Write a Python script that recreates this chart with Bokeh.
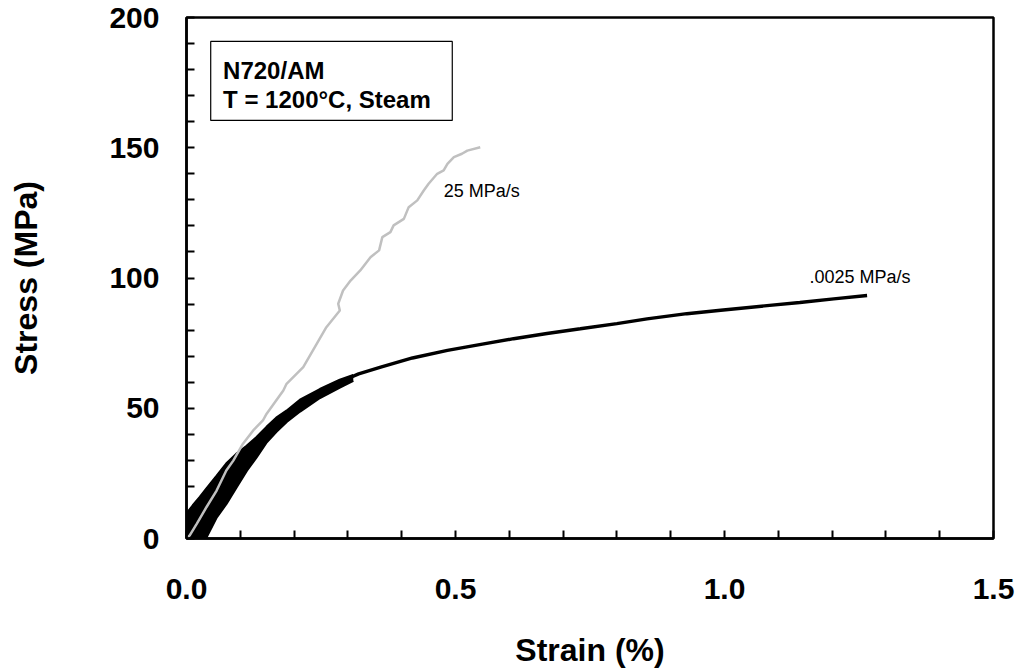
from bokeh.plotting import figure
from bokeh.models import Range1d, FixedTicker, BoxAnnotation, Label
from bokeh.embed import file_html
from bokeh.resources import INLINE

# ---- data ----
# 25 MPa/s (gray)
fast_strain = [0.0, 0.006, 0.019, 0.037, 0.056, 0.074, 0.087, 0.105, 0.124, 0.142,
               0.149, 0.180, 0.186, 0.217, 0.242, 0.260, 0.285, 0.282, 0.291, 0.305,
               0.323, 0.342, 0.358, 0.364, 0.379, 0.385, 0.404, 0.413, 0.429, 0.441,
               0.450, 0.466, 0.478, 0.485, 0.497, 0.512, 0.522, 0.546]
fast_stress = [0.0, 1.2, 5.6, 12.0, 18.4, 26.1, 29.9, 36.4, 41.5, 45.3,
               47.9, 56.8, 59.4, 65.8, 74.7, 81.1, 87.5, 90.1, 95.2, 99.0,
               102.9, 108.0, 110.6, 115.7, 117.6, 120.2, 122.7, 127.2, 129.8, 133.6,
               136.2, 140.0, 141.3, 143.8, 146.4, 147.7, 148.9, 150.2]

# .0025 MPa/s (black): noisy band at low strain
band_strain = [0.0, 0.012, 0.025, 0.037, 0.056, 0.074, 0.093, 0.112, 0.130, 0.149,
               0.167, 0.186, 0.211, 0.248, 0.285, 0.310]
band_lower = [0.0, 0.0, 0.0, 0.5, 8.2, 13.3, 19.7, 26.1, 31.2, 37.0,
              41.0, 44.8, 48.8, 54.0, 58.0, 60.6]
band_upper = [9.5, 12.7, 15.9, 19.1, 24.0, 28.7, 32.5, 35.5, 38.8, 42.8,
              46.3, 49.0, 53.2, 57.3, 60.9, 62.7]
# .0025 MPa/s (black): smooth part
slow_strain = [0.300, 0.32, 0.361, 0.42, 0.485, 0.55, 0.608,
               0.67, 0.732, 0.8, 0.856, 0.93, 0.993, 1.079, 1.14, 1.203, 1.265]
slow_stress = [61.4, 63.2, 65.8, 69.3, 72.2, 74.6, 76.7,
               78.7, 80.5, 82.5, 84.3, 86.3, 87.6, 89.4, 90.6, 92.0, 93.3]

x_ticks = [0.0, 0.5, 1.0, 1.5]
x_minor = [0.1, 0.2, 0.3, 0.4, 0.6, 0.7, 0.8, 0.9, 1.1, 1.2, 1.3, 1.4]
y_ticks = [0, 50, 100, 150, 200]
y_minor = [10, 20, 30, 40, 60, 70, 80, 90, 110, 120, 130, 140, 160, 170, 180, 190]
x_tick_labels = {0.0: "0.0", 0.5: "0.5", 1.0: "1.0", 1.5: "1.5"}

FONT = "Liberation Sans"

p = figure(width=1018, height=670, output_backend="svg", toolbar_location=None,
           x_range=Range1d(0, 1.5), y_range=Range1d(0, 200),
           min_border_left=186, min_border_right=25, min_border_top=17, min_border_bottom=132)
p.grid.visible = False
p.background_fill_color = "white"
p.border_fill_color = "white"
p.outline_line_color = "black"
p.outline_line_width = 2.5

p.xaxis.ticker = FixedTicker(ticks=x_ticks, minor_ticks=x_minor)
p.yaxis.ticker = FixedTicker(ticks=y_ticks, minor_ticks=y_minor)
p.xaxis.major_label_overrides = x_tick_labels

for ax in (p.xaxis, p.yaxis):
    ax.axis_line_width = 2.5
    ax.axis_line_color = "black"
    ax.major_tick_in = 8
    ax.major_tick_out = 0
    ax.minor_tick_in = 8
    ax.minor_tick_out = 0
    ax.major_tick_line_width = 2
    ax.minor_tick_line_width = 2
    ax.major_tick_line_color = "black"
    ax.minor_tick_line_color = "black"
    ax.major_label_text_font = FONT
    ax.major_label_text_font_style = "bold"
    ax.major_label_text_font_size = "30px"
    ax.major_label_text_color = "black"
    ax.axis_label_text_font = FONT
    ax.axis_label_text_font_style = "bold"
    ax.axis_label_text_font_size = "32px"
    ax.axis_label_text_color = "black"

p.xaxis.axis_label = "Strain (%)"
p.yaxis.axis_label = "Stress (MPa)"
p.yaxis.major_label_standoff = 27
p.xaxis.major_label_standoff = 40
p.yaxis.axis_label_standoff = 62
p.xaxis.axis_label_standoff = 30

# curves
p.varea(x=band_strain, y1=band_lower, y2=band_upper, fill_color="black")
p.line(band_strain, band_lower, line_color="black", line_width=2.5)
p.line(band_strain, band_upper, line_color="black", line_width=2.5)
p.line(slow_strain, slow_stress, line_color="black", line_width=3.4)
p.line(fast_strain, fast_stress, line_color="#c0c0c0", line_width=2.5)

# annotation box
box = BoxAnnotation(left=0.045, right=0.494, top=190.8, bottom=160.5,
                    fill_color="white", fill_alpha=1.0, line_color="black",
                    line_alpha=1.0, line_width=1.2)
p.add_layout(box)
p.add_layout(Label(x=0.068, y=179.7, text="N720/AM", text_font=FONT, text_font_style="bold",
                   text_font_size="24px", text_baseline="alphabetic", text_color="black"))
p.add_layout(Label(x=0.068, y=168.6, text="T = 1200°C, Steam", text_font=FONT,
                   text_font_style="bold", text_font_size="24px",
                   text_baseline="alphabetic", text_color="black"))

p.add_layout(Label(x=0.478, y=133.3, text="25 MPa/s", text_font=FONT,
                   text_font_size="18px", text_baseline="alphabetic", text_color="black"))
p.add_layout(Label(x=1.158, y=100.2, text=".0025 MPa/s", text_font=FONT,
                   text_font_size="18px", text_baseline="alphabetic", text_color="black"))

open("out.html", "w").write(file_html(p, INLINE))
